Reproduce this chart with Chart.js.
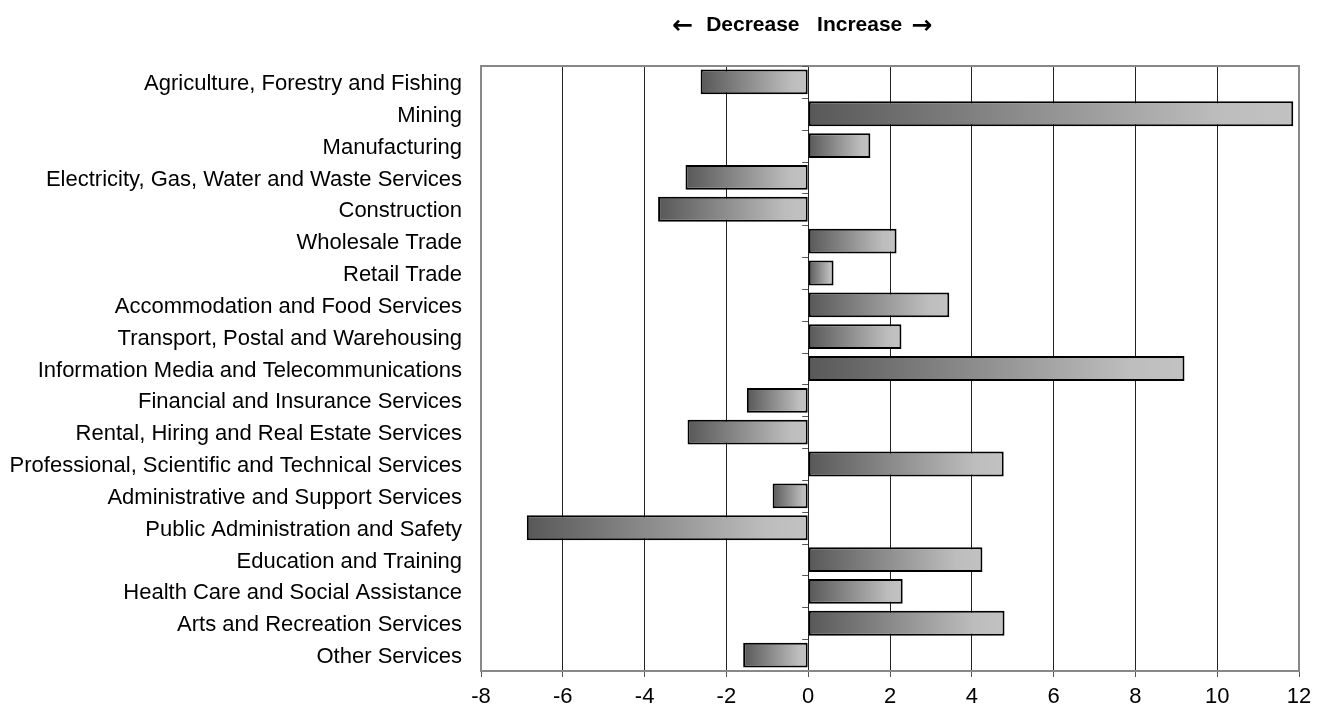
<!DOCTYPE html>
<html lang="en">
<head>
  <meta charset="UTF-8">
  <title>Industry change</title>
  <script src="https://cdn.jsdelivr.net/npm/chart.js"></script>
  <style>
    body {
      margin: 0;
      background: #fff;
      font-family: Arial, "Liberation Sans", sans-serif;
    }
    #wrap {
      width: 1331px;
      height: 707px;
    }
  </style>
</head>
<body>
  <div id="wrap">
    <canvas id="changeChart"></canvas>
  </div>

  <script>
    // Values
    const industries = [
      'Agriculture, Forestry and Fishing',
      'Mining',
      'Manufacturing',
      'Electricity, Gas, Water and Waste Services',
      'Construction',
      'Wholesale Trade',
      'Retail Trade',
      'Accommodation and Food Services',
      'Transport, Postal and Warehousing',
      'Information Media and Telecommunications',
      'Financial and Insurance Services',
      'Rental, Hiring and Real Estate Services',
      'Professional, Scientific and Technical Services',
      'Administrative and Support Services',
      'Public Administration and Safety',
      'Education and Training',
      'Health Care and Social Assistance',
      'Arts and Recreation Services',
      'Other Services'
    ];
    const changes = [-2.63, 11.86, 1.52, -3.0, -3.67, 2.16, 0.62, 3.45, 2.28, 9.2,
                     -1.5, -2.95, 4.78, -0.87, -6.88, 4.26, 2.31, 4.8, -1.59];
    const xMin = -8;
    const xMax = 12;
    const xStep = 2;
    const headerWords = 'Decrease   Increase';

    // grey fade from left edge to right edge of each bar
    function barFill(c) {
      if (c.type !== 'data') return '#999';
      const chart = c.chart;
      const x = chart.scales.x;
      if (!chart.chartArea || !x) return '#999';
      const p0 = x.getPixelForValue(0);
      const p1 = x.getPixelForValue(c.raw);
      const g = chart.ctx.createLinearGradient(Math.min(p0, p1), 0, Math.max(p0, p1), 0);
      g.addColorStop(0, '#585858');
      g.addColorStop(0.85, '#bdbdbd');
      g.addColorStop(1, '#c2c2c2');
      return g;
    }

    // frame, little ticks on the zero line and the header
    const overlay = {
      id: 'overlay',
      afterDraw(chart) {
        const ctx = chart.ctx;
        const a = chart.chartArea;
        const x0 = chart.scales.x.getPixelForValue(0);
        ctx.save();
        ctx.strokeStyle = '#888';
        ctx.lineWidth = 2;
        ctx.strokeRect(a.left, a.top, a.right - a.left, a.bottom - a.top);

        ctx.lineWidth = 1;
        ctx.strokeStyle = '#555';
        const step = (a.bottom - a.top) / industries.length;
        for (let i = 0; i < industries.length; i++) {
          const yy = Math.round(a.top + i * step) + 0.5;
          ctx.beginPath();
          ctx.moveTo(x0 - 6, yy);
          ctx.lineTo(x0, yy);
          ctx.stroke();
        }

        // header: words in bold Arial, heavier arrows from DejaVu
        const cx = x0 - 4;
        ctx.fillStyle = '#000';
        ctx.textBaseline = 'middle';
        ctx.font = 'bold 21px Arial, "Liberation Sans", sans-serif';
        ctx.textAlign = 'center';
        ctx.fillText(headerWords, cx, 25);
        const half = ctx.measureText(headerWords).width / 2;
        ctx.font = 'bold 25px "DejaVu Sans", sans-serif';
        ctx.textAlign = 'right';
        ctx.fillText('\u2190', cx - half - 13, 26);
        ctx.textAlign = 'left';
        ctx.fillText('\u2192', cx + half + 9, 26);
        ctx.restore();
      }
    };

    const ctx = document.getElementById('changeChart').getContext('2d');
    const changeChart = new Chart(ctx, {
      type: 'bar',
      data: {
        labels: industries,
        datasets: [{
          data: changes,
          backgroundColor: barFill,
          borderColor: '#000',
          borderWidth: 2,
          borderSkipped: false,
          barPercentage: 0.78,
          categoryPercentage: 1.0
        }]
      },
      options: {
        indexAxis: 'y',
        responsive: true,
        maintainAspectRatio: false,
        animation: false,
        layout: { padding: { top: 66, right: 32, left: 0, bottom: 0 } },
        plugins: {
          legend: { display: false },
          tooltip: { enabled: false }
        },
        scales: {
          x: {
            min: xMin,
            max: xMax,
            ticks: {
              stepSize: xStep,
              color: '#000',
              padding: 7,
              font: { size: 22, family: 'Arial, "Liberation Sans", sans-serif' }
            },
            grid: {
              color: '#222',
              lineWidth: 1,
              tickLength: 6,
              tickColor: '#555'
            },
            border: { color: '#555', width: 2 },
            afterFit(s) { s.height = 36; }
          },
          y: {
            ticks: {
              color: '#000',
              padding: 19,
              labelOffset: 2,
              autoSkip: false,
              font: { size: 22, family: 'Arial, "Liberation Sans", sans-serif' }
            },
            grid: { display: false, drawTicks: false },
            border: { display: false },
            afterFit(s) { s.width = 481; }
          }
        }
      },
      plugins: [overlay]
    });
  </script>
</body>
</html>
